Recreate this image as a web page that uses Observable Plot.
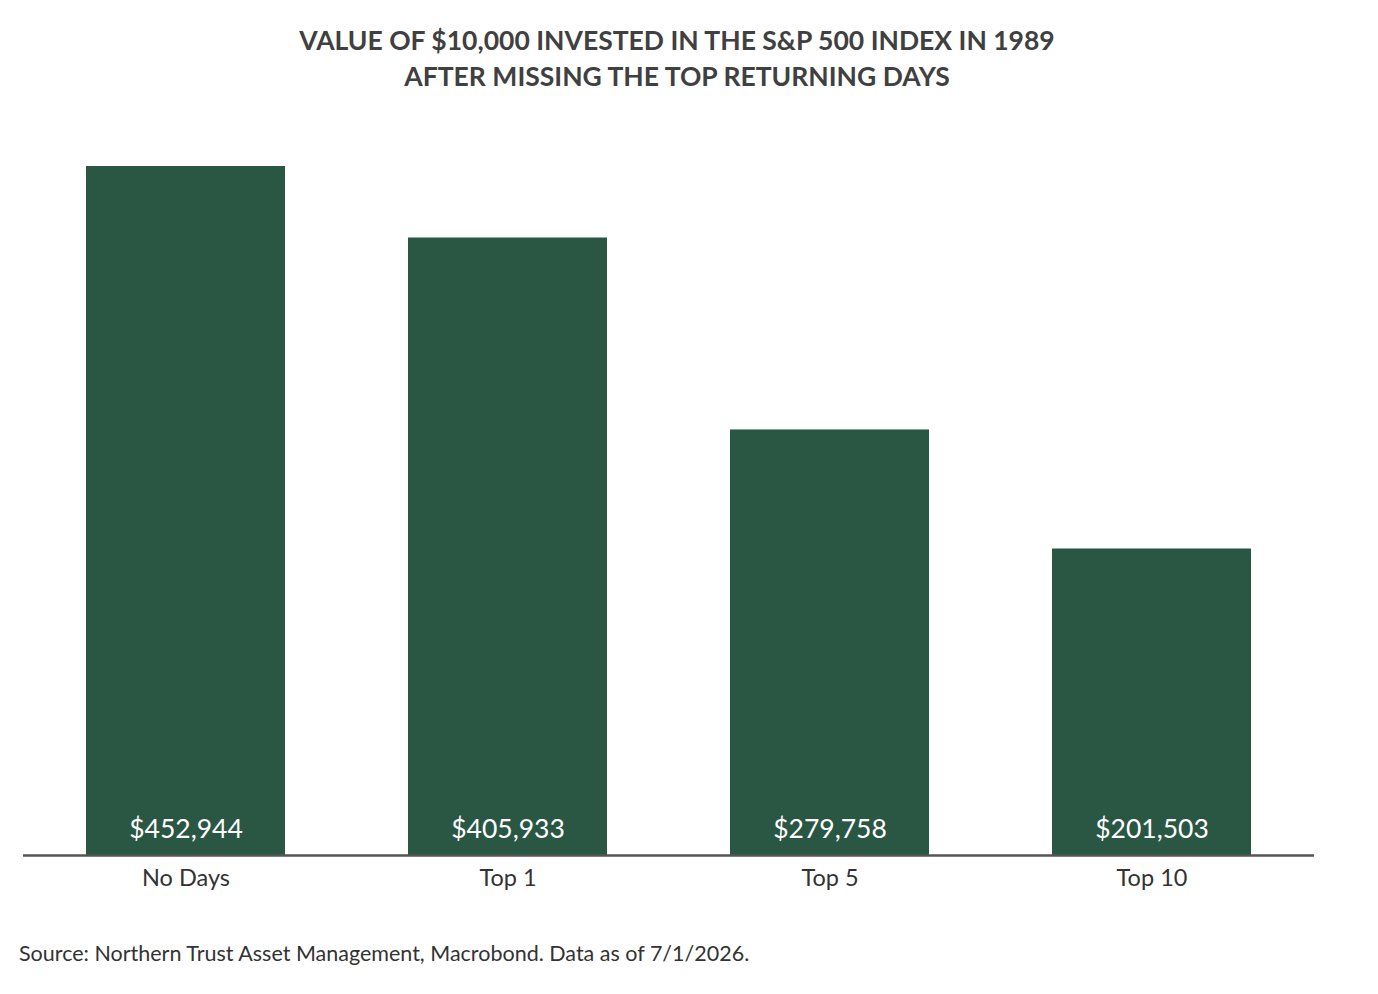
<!DOCTYPE html>
<html>
<head>
<meta charset="utf-8">
<script src="https://cdn.jsdelivr.net/npm/d3@7"></script>
<script src="https://cdn.jsdelivr.net/npm/@observablehq/plot@0.6"></script>
<style>
  html, body { margin: 0; padding: 0; background: #fff; }
  body { width: 1378px; height: 994px; position: relative; font-family: Lato, "Noto Sans", sans-serif; }
  #title { position: absolute; top: 22px; left: -12px; width: 1378px; text-align: center; color: #404040;
           font-size: 26.5px; font-weight: 700; line-height: 36px; }
  #chart { position: absolute; top: 110px; left: 0; }
  #caption { position: absolute; top: 940px; left: 19px; color: #333; font-size: 21.5px; }
</style>
</head>
<body>
<div id="title">VALUE OF $10,000 INVESTED IN THE S&amp;P 500 INDEX IN 1989<br>AFTER MISSING THE TOP RETURNING DAYS</div>
<div id="chart"></div>
<div id="caption">Source: Northern Trust Asset Management, Macrobond. Data as of 7/1/2026.</div>
<script>
const categories = ["No Days", "Top 1", "Top 5", "Top 10"];
const values = [452944, 405933, 279758, 201503];
const labels = ["$452,944", "$405,933", "$279,758", "$201,503"];

const data = categories.map((c, i) => ({category: c, value: values[i], label: labels[i]}));

const chart = Plot.plot({
  width: 1378,
  height: 800,
  marginTop: 56,
  marginBottom: 55,
  marginLeft: 23,
  marginRight: 64,
  style: {fontFamily: "Lato, 'Noto Sans', sans-serif", background: "#fff"},
  x: {domain: categories, paddingInner: 0.383, paddingOuter: 0.19, label: null},
  y: {domain: [0, 452944], axis: null},
  marks: [
    Plot.barY(data, {x: "category", y: "value", fill: "#2a5744"}),
    Plot.ruleY([0], {stroke: "#555", strokeWidth: 2.5}),
    Plot.text(data, {x: "category", y: 0, text: "label", dy: -26, fill: "#fff", fontSize: 26.5, lineAnchor: "middle"}),
    Plot.axisX({tickSize: 0, tickPadding: 14, fontSize: 23.5, color: "#333", label: null})
  ]
});
document.getElementById("chart").appendChild(chart);
</script>
</body>
</html>
